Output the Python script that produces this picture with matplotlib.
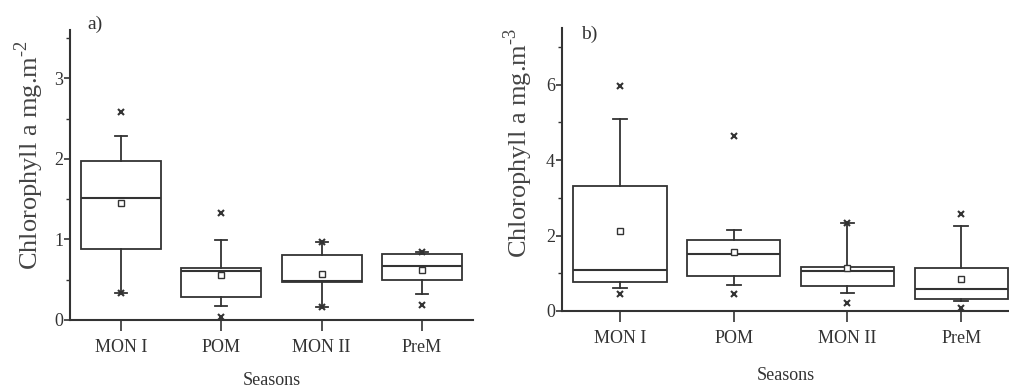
import matplotlib
matplotlib.use("Agg")
import matplotlib.pyplot as plt
from matplotlib.ticker import MultipleLocator

plt.rcParams['font.family'] = ['Liberation Serif', 'DejaVu Serif']
plt.rcParams['mathtext.fontset'] = 'custom'
plt.rcParams['mathtext.rm'] = 'Liberation Serif'
plt.rcParams['mathtext.bf'] = 'Liberation Serif:bold'

seasons = ["MON I", "POM", "MON II", "PreM"]

# panel a) Chlorophyll a mg.m-2
a_q1 = [0.88, 0.29, 0.47, 0.50]
a_med = [1.52, 0.61, 0.49, 0.67]
a_q3 = [1.97, 0.64, 0.81, 0.82]
a_lo = [0.33, 0.17, 0.16, 0.32]
a_hi = [2.28, 0.99, 0.97, 0.84]
a_mean = [1.45, 0.56, 0.57, 0.62]
a_min = [0.33, 0.04, 0.16, 0.19]
a_max = [2.58, 1.33, 0.97, 0.84]

# panel b) Chlorophyll a mg.m-3
b_q1 = [0.77, 0.94, 0.66, 0.33]
b_med = [1.08, 1.50, 1.07, 0.59]
b_q3 = [3.32, 1.87, 1.17, 1.13]
b_lo = [0.60, 0.68, 0.48, 0.26]
b_hi = [5.08, 2.15, 2.33, 2.24]
b_mean = [2.13, 1.56, 1.13, 0.86]
b_min = [0.44, 0.46, 0.22, 0.09]
b_max = [5.95, 4.64, 2.33, 2.57]

ink = "#333333"


def draw_panel(ax, q1, med, q3, lo, hi, mean, vmin, vmax, width):
    stats = []
    for i in range(len(seasons)):
        stats.append(dict(q1=q1[i], med=med[i], q3=q3[i], whislo=lo[i],
                          whishi=hi[i], mean=mean[i], fliers=[], label=seasons[i]))
    pos = list(range(1, len(seasons) + 1))
    ax.bxp(stats, positions=pos, widths=width, showmeans=True, patch_artist=True,
           boxprops=dict(facecolor="white", edgecolor=ink, linewidth=1.3),
           medianprops=dict(color=ink, linewidth=1.5),
           whiskerprops=dict(color=ink, linewidth=1.3),
           capprops=dict(color=ink, linewidth=1.3),
           capwidths=0.12,
           meanprops=dict(marker="s", markersize=4, markerfacecolor="white",
                          markeredgecolor=ink, markeredgewidth=1.0))
    ax.plot(pos, vmin, ls="none", marker="x", ms=4.5, mew=1.5, color=ink)
    ax.plot(pos, vmax, ls="none", marker="x", ms=4.5, mew=1.5, color=ink)

    for s in ["top", "right"]:
        ax.spines[s].set_visible(False)
    for s in ["left", "bottom"]:
        ax.spines[s].set_color(ink)
        ax.spines[s].set_linewidth(1.5)
    ax.tick_params(axis="both", which="major", colors=ink, labelsize=13,
                   width=1.2, length=4)
    ax.tick_params(axis="x", length=8, pad=6)
    ax.tick_params(axis="y", which="minor", colors=ink, width=1.0, length=3)
    ax.tick_params(axis="y", pad=1)


fig = plt.figure(figsize=(10.09, 3.9), dpi=100)

ax1 = fig.add_axes([0.0694, 0.1795, 0.3994, 0.7436])
draw_panel(ax1, a_q1, a_med, a_q3, a_lo, a_hi, a_mean, a_min, a_max, 0.8)
ax1.set_xlim(0.49, 4.51)
ax1.set_ylim(0, 3.6)
ax1.yaxis.set_major_locator(MultipleLocator(1))
ax1.yaxis.set_minor_locator(MultipleLocator(0.5))
ax1.set_xlabel("Seasons", fontsize=13, color=ink, labelpad=11)
ax1.set_ylabel(r"Chlorophyll a mg.m$^{\text{-2}}$", fontsize=19, color="#444444")
ax1.yaxis.set_label_coords(-0.06, 0.57)
ax1.text(0.042, 1.02, "a)", transform=ax1.transAxes, fontsize=14, color=ink,
         ha="left", va="center")

ax2 = fig.add_axes([0.557, 0.2026, 0.443, 0.7256])
draw_panel(ax2, b_q1, b_med, b_q3, b_lo, b_hi, b_mean, b_min, b_max, 0.82)
ax2.set_xlim(0.49, 4.42)
ax2.set_ylim(0, 7.5)
ax2.yaxis.set_major_locator(MultipleLocator(2))
ax2.yaxis.set_minor_locator(MultipleLocator(1))
ax2.set_xlabel("Seasons", fontsize=13, color=ink, labelpad=14)
ax2.set_ylabel(r"Chlorophyll a mg.m$^{\text{-3}}$", fontsize=19, color="#444444")
ax2.yaxis.set_label_coords(-0.061, 0.595)
ax2.text(0.0425, 0.979, "b)", transform=ax2.transAxes, fontsize=14, color=ink,
         ha="left", va="center")

fig.savefig("out.png", dpi=100)
